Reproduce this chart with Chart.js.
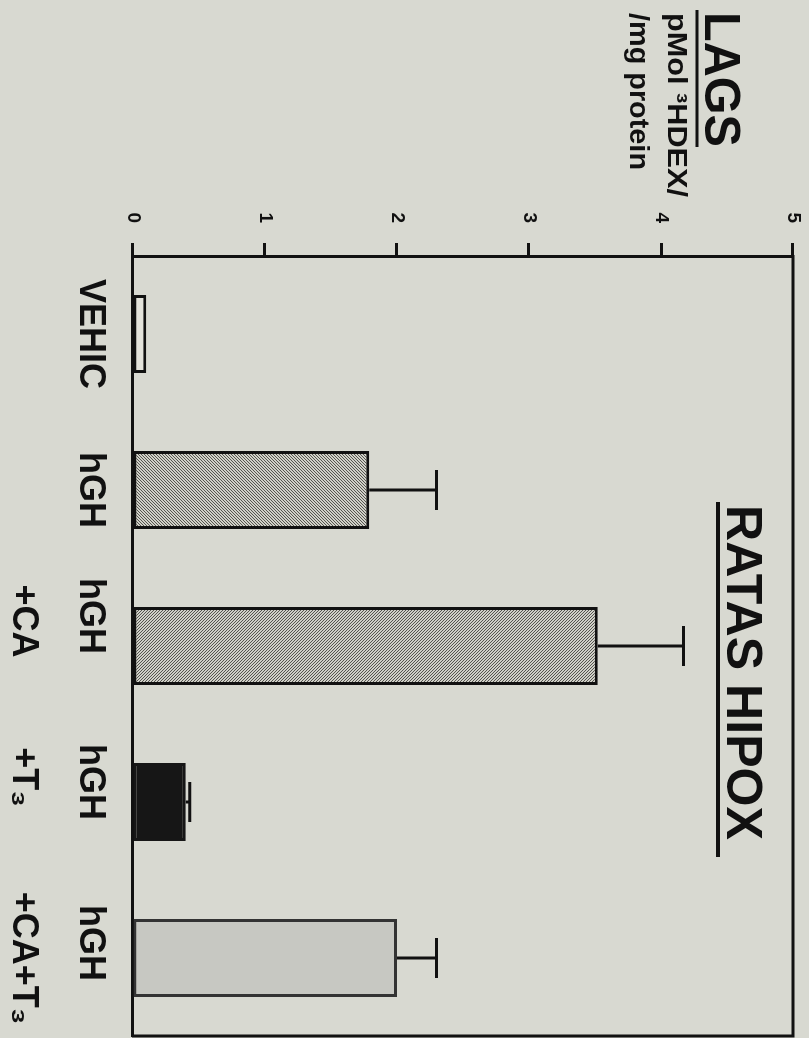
<!DOCTYPE html>
<html>
<head>
<meta charset="utf-8">
<script src="https://cdn.jsdelivr.net/npm/chart.js@4.4.1/dist/chart.umd.min.js"></script>
<style>
  html, body { margin: 0; padding: 0; background: #d8d9d1; overflow: hidden; }
  /* the figure is printed sideways, so draw it upright and turn it a quarter clockwise */
  #wrap { position: absolute; left: 0; top: 0; width: 1038px; height: 809px;
          transform-origin: 0 0; transform: translate(809px, 0) rotate(90deg); }
</style>
</head>
<body>
<div id="wrap"><canvas id="lagsChart" width="1038" height="809"></canvas></div>
<script>
// data (trailing spaces nudge the labels the way the print has them)
const categories = [['VEHIC'], ['hGH'], ['hGH      ', '+CA     '], ['hGH    ', '+T₃     '], ['hGH   ', '+CA+T₃']];
const lagsValues = [0.10, 1.79, 3.52, 0.40, 2.00];
const lagsErrors = [0, 0.51, 0.65, 0.03, 0.30];
const yTicks = [0, 1, 2, 3, 4, 5];

const FONT = '"Liberation Sans", Arial, Helvetica, sans-serif';
const INK = '#111';

// fine hatch tiles, 3px
function hatch(dir) {
    const n = 3;
    let t = document.createElement('canvas');
    t.width = n; t.height = n;
    let c = t.getContext('2d');
    c.fillStyle = '#d0d0c8';
    c.fillRect(0, 0, n, n);
    c.strokeStyle = '#55554f';
    c.lineWidth = 1;
    c.beginPath();
    if (dir === '/') {
        c.moveTo(0, n); c.lineTo(n, 0);
        c.moveTo(-1, 1); c.lineTo(1, -1);
        c.moveTo(n - 1, n + 1); c.lineTo(n + 1, n - 1);
    } else {
        c.moveTo(0, 0); c.lineTo(n, n);
        c.moveTo(n - 1, -1); c.lineTo(n + 1, 1);
        c.moveTo(-1, n - 1); c.lineTo(1, n + 1);
    }
    c.stroke();
    return c.createPattern(t, 'repeat');
}

const barFills = ['#e3e3db', hatch('/'), hatch('\\'), '#161616', '#c7c8c2'];
const barBorders = [INK, INK, INK, '#161616', '#333'];

const paperBg = {
    id: 'paperBg',
    beforeDraw(chart) {
        let c = chart.ctx;
        c.save();
        c.fillStyle = '#d8d9d1';
        c.fillRect(0, 0, chart.width, chart.height);
        c.restore();
    }
};

// closes the box on the two sides that have no axis
const frameBox = {
    id: 'frameBox',
    afterDraw(chart) {
        let c = chart.ctx, a = chart.chartArea;
        c.save();
        c.strokeStyle = INK;
        c.lineWidth = 3;
        c.beginPath();
        c.moveTo(a.left - 1, a.top);
        c.lineTo(a.right, a.top);
        c.lineTo(a.right, a.bottom + 1);
        c.stroke();
        c.restore();
    }
};

// upper error bars only
const errorBars = {
    id: 'errorBars',
    afterDatasetsDraw(chart) {
        let c = chart.ctx, y = chart.scales.y;
        let meta = chart.getDatasetMeta(0);
        c.save();
        c.strokeStyle = INK;
        c.lineWidth = 3;
        meta.data.forEach((bar, i) => {
            let err = lagsErrors[i];
            if (!err) return;
            let top = y.getPixelForValue(lagsValues[i] + err);
            c.beginPath();
            c.moveTo(bar.x, bar.y);
            c.lineTo(bar.x, top);
            c.moveTo(bar.x - 20, top);
            c.lineTo(bar.x + 20, top);
            c.stroke();
        });
        c.restore();
    }
};

function fitText(c, text, x, y, font, width) {
    c.font = font;
    let w = c.measureText(text).width;
    c.save();
    c.translate(x, y);
    c.scale(width / w, 1);
    c.fillText(text, 0, 0);
    c.restore();
}

const titles = {
    id: 'titles',
    afterDraw(chart) {
        let c = chart.ctx;
        c.save();
        c.fillStyle = INK;
        c.strokeStyle = INK;
        c.textAlign = 'left';
        c.textBaseline = 'alphabetic';

        fitText(c, 'LAGS', 12, 104, 'bold 50px ' + FONT, 135);
        c.lineWidth = 3;
        c.beginPath(); c.moveTo(10, 112); c.lineTo(147, 112); c.stroke();
        fitText(c, 'pMol ³HDEX/', 13, 141, 'bold 27px ' + FONT, 184);
        fitText(c, '/mg protein', 13, 179, 'bold 27px ' + FONT, 157);

        fitText(c, 'RATAS HIPOX', 505, 82, 'bold 50px ' + FONT, 335);
        c.lineWidth = 4;
        c.beginPath(); c.moveTo(502, 91); c.lineTo(857, 91); c.stroke();
        c.restore();
    }
};

new Chart(document.getElementById('lagsChart'), {
    type: 'bar',
    data: {
        labels: categories,
        datasets: [{
            data: lagsValues,
            backgroundColor: barFills,
            borderColor: barBorders,
            borderWidth: 3,
            borderSkipped: false,
            barPercentage: 0.5,
            categoryPercentage: 1.0
        }]
    },
    options: {
        responsive: false,
        animation: false,
        layout: { padding: { top: 16, right: 2, left: 0, bottom: 0 } },
        plugins: { legend: { display: false }, tooltip: { enabled: false } },
        scales: {
            x: {
                grid: { display: false },
                border: { display: true, color: INK, width: 3 },
                ticks: {
                    color: INK,
                    padding: 2,
                    maxRotation: 0,
                    autoSkip: false,
                    font: { family: FONT, size: 36, weight: 'bold', lineHeight: 1.85 }
                },
                afterFit(s) { s.height = 133; s.paddingLeft = 0; s.paddingRight = 0; }
            },
            y: {
                min: 0,
                max: 5,
                afterBuildTicks(s) { s.ticks = yTicks.map(v => ({ value: v })); },
                grid: { drawOnChartArea: false, drawTicks: true, tickLength: 13, tickWidth: 3, color: INK },
                border: { display: true, color: INK, width: 3 },
                ticks: {
                    color: INK,
                    padding: 20,
                    font: { family: FONT, size: 19, weight: 'bold' }
                },
                afterFit(s) { s.width = 256; s.paddingTop = 0; s.paddingBottom = 0; }
            }
        }
    },
    plugins: [paperBg, errorBars, frameBox, titles]
});
</script>
</body>
</html>
